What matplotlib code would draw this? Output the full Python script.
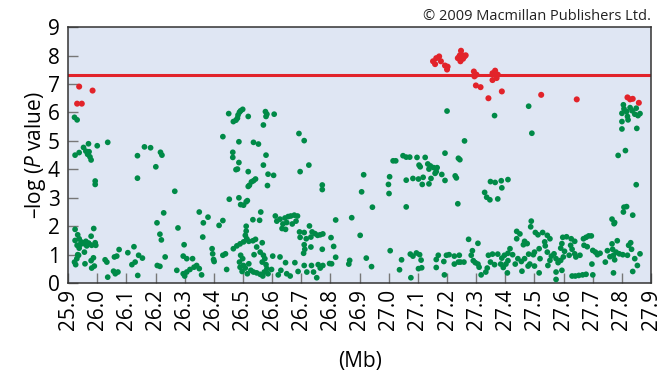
import numpy as np
import matplotlib
matplotlib.use("Agg")
import matplotlib.pyplot as plt

plt.rcParams["font.family"] = ["Open Sans", "DejaVu Sans"]
plt.rcParams["mathtext.fontset"] = "custom"
plt.rcParams["mathtext.rm"] = "Open Sans"
plt.rcParams["mathtext.it"] = "Open Sans:italic"

# SNPs above genome-wide threshold (Mb, -log P)
red_snps = [
    (25.938, 6.91), (25.984, 6.77), (25.931, 6.31), (25.947, 6.31),
    (27.152, 7.80), (27.163, 7.91), (27.173, 7.97), (27.159, 7.70), (27.179, 7.80),
    (27.193, 7.65), (27.202, 7.61), (27.200, 7.51), (27.237, 7.91), (27.244, 8.01),
    (27.248, 8.17), (27.253, 8.01), (27.242, 7.96), (27.260, 7.97), (27.264, 8.01),
    (27.246, 7.80), (27.255, 7.89), (27.292, 7.44), (27.301, 7.33), (27.294, 7.27),
    (27.356, 7.38), (27.365, 7.47), (27.374, 7.33), (27.370, 7.21), (27.356, 7.14),
    (27.299, 6.95), (27.315, 6.89), (27.342, 6.50), (27.388, 6.74), (27.523, 6.62),
    (27.645, 6.46), (27.819, 6.53), (27.828, 6.46), (27.837, 6.48), (27.858, 6.34),
]

# remaining SNPs
green_snps = [
    # 25.9 - 26.23
    (25.922, 5.83), (25.931, 5.74),
    (25.924, 4.50), (25.938, 4.59), (25.953, 4.77), (25.970, 4.90), (25.961, 4.64),
    (25.972, 4.62), (25.975, 4.44), (25.967, 4.53), (26.000, 4.83), (25.979, 4.33),
    (26.036, 4.95), (25.993, 3.59), (25.993, 3.47),
    (26.138, 4.48), (26.162, 4.79), (26.183, 4.76), (26.217, 4.60), (26.222, 4.50),
    (26.201, 4.09), (26.138, 3.69), (26.228, 2.47), (26.205, 2.12), (26.215, 1.72),
    (26.220, 1.52),
    (25.924, 1.89), (25.933, 1.70), (25.938, 1.56), (25.945, 1.45), (25.953, 1.39),
    (25.961, 1.47), (25.970, 1.41), (25.979, 1.65), (25.988, 1.92), (25.993, 1.42),
    (25.995, 1.33), (25.931, 1.33), (25.938, 1.23), (25.941, 1.35), (25.956, 1.42),
    (25.964, 1.31), (25.972, 1.38), (25.981, 1.33), (25.924, 1.50), (25.936, 0.98),
    (25.930, 0.86), (25.922, 0.74), (25.926, 0.65), (25.933, 1.00), (25.956, 1.09),
    (25.958, 0.68), (25.979, 0.79), (25.987, 0.89), (25.981, 0.53), (25.990, 0.60),
    (26.027, 0.82), (26.033, 0.74), (26.059, 0.92), (26.067, 0.95), (26.075, 1.18),
    (26.056, 0.42), (26.062, 0.33), (26.071, 0.39), (26.036, 0.21), (26.105, 1.07),
    (26.126, 1.28), (26.142, 0.98), (26.155, 0.88), (26.130, 0.74), (26.119, 0.65),
    (26.139, 0.27), (26.206, 0.62), (26.215, 0.59), (26.233, 0.92),
    # 26.23 - 26.57
    (26.266, 3.23), (26.277, 1.94), (26.298, 1.35), (26.295, 0.95), (26.307, 0.86),
    (26.327, 0.86), (26.273, 0.45), (26.295, 0.33), (26.300, 0.25), (26.307, 0.39),
    (26.318, 0.48), (26.332, 0.56), (26.341, 0.62), (26.350, 0.51), (26.358, 0.29),
    (26.350, 2.50), (26.380, 2.32), (26.364, 2.12), (26.431, 2.20), (26.418, 2.03),
    (26.362, 1.62), (26.394, 1.21), (26.396, 1.03), (26.399, 0.83), (26.401, 0.76),
    (26.431, 0.98), (26.440, 1.03), (26.444, 0.48),
    (26.431, 5.15), (26.451, 5.96), (26.467, 5.68), (26.476, 5.73), (26.481, 5.80),
    (26.488, 6.01), (26.492, 6.06), (26.499, 6.11), (26.483, 5.91), (26.518, 5.86),
    (26.570, 5.56), (26.486, 4.97), (26.536, 4.95), (26.553, 4.89), (26.465, 4.60),
    (26.465, 4.42), (26.486, 4.24), (26.481, 4.01), (26.476, 3.99), (26.518, 3.92),
    (26.570, 4.15), (26.529, 3.56), (26.536, 3.60), (26.543, 3.66), (26.522, 3.44),
    (26.518, 3.40), (26.453, 2.95), (26.486, 3.00), (26.492, 2.76), (26.502, 2.74),
    (26.511, 2.86), (26.515, 2.90), (26.534, 2.23), (26.557, 2.21), (26.561, 2.50),
    (26.511, 2.00), (26.511, 1.83), (26.508, 1.68), (26.513, 1.56), (26.502, 1.45),
    (26.490, 1.38), (26.479, 1.31), (26.467, 1.21), (26.520, 1.47), (26.534, 1.49),
    (26.543, 1.54), (26.547, 1.27), (26.538, 1.00), (26.559, 1.09), (26.566, 1.42),
    (26.492, 0.98), (26.499, 0.86), (26.488, 0.74), (26.502, 0.62), (26.490, 0.56),
    (26.508, 0.53), (26.520, 0.68), (26.527, 0.45), (26.536, 0.39), (26.547, 0.36),
    (26.559, 0.31), (26.568, 0.25), (26.515, 0.33), (26.497, 0.41),
    # 26.57 - 26.9
    (26.577, 6.03), (26.582, 5.94), (26.579, 5.86), (26.607, 5.94), (26.692, 5.26),
    (26.710, 5.01), (26.579, 4.50), (26.586, 3.83), (26.605, 3.79), (26.584, 3.43),
    (26.726, 4.15), (26.696, 3.92), (26.772, 3.45), (26.772, 3.29),
    (26.611, 2.36), (26.627, 2.25), (26.644, 2.29), (26.655, 2.34), (26.664, 2.36),
    (26.676, 2.39), (26.687, 2.36), (26.616, 2.18), (26.637, 2.08), (26.650, 2.13),
    (26.669, 2.08), (26.682, 2.18), (26.646, 1.89), (26.634, 1.92), (26.694, 1.80),
    (26.710, 1.78), (26.728, 2.01), (26.737, 1.80), (26.747, 1.74), (26.756, 1.68),
    (26.765, 1.70), (26.774, 1.73), (26.696, 1.61), (26.717, 1.56), (26.733, 1.62),
    (26.710, 1.35), (26.712, 1.19), (26.708, 1.05), (26.733, 1.27), (26.772, 1.19),
    (26.802, 1.60), (26.811, 1.29), (26.818, 2.22), (26.873, 2.30), (26.818, 0.91),
    (26.804, 0.68), (26.797, 0.69), (26.866, 0.80), (26.863, 0.67), (26.902, 1.68),
    (26.570, 0.98), (26.575, 0.86), (26.566, 0.74), (26.579, 0.65), (26.582, 0.51),
    (26.573, 0.39), (26.586, 0.33), (26.602, 0.95), (26.627, 0.92), (26.598, 0.48),
    (26.621, 0.29), (26.630, 0.45), (26.646, 0.72), (26.650, 0.33), (26.662, 0.25),
    (26.678, 0.72), (26.689, 0.41), (26.710, 0.62), (26.719, 0.39), (26.735, 0.62),
    (26.742, 0.39), (26.753, 0.19), (26.758, 0.65), (26.774, 0.62), (26.765, 0.53),
    # 26.9 - 27.24
    (27.200, 6.05), (26.914, 3.81), (26.907, 3.21), (26.944, 2.67), (26.923, 0.88),
    (26.941, 0.58), (27.003, 3.74), (26.999, 3.47), (27.001, 3.15),
    (27.015, 4.30), (27.024, 4.30), (27.049, 4.48), (27.060, 4.43), (27.072, 4.43),
    (27.097, 4.42), (27.125, 4.42), (27.104, 4.15), (27.108, 4.09), (27.134, 4.19),
    (27.143, 4.12), (27.138, 4.01), (27.154, 4.06), (27.166, 4.06), (27.159, 3.86),
    (27.163, 3.92), (27.145, 3.68), (27.138, 3.49), (27.115, 3.47), (27.083, 3.68),
    (27.102, 3.66), (27.118, 3.72), (27.060, 3.62), (27.182, 3.82), (27.193, 3.61),
    (27.193, 4.57), (27.228, 3.77), (27.232, 3.70), (27.239, 4.39), (27.237, 2.79),
    (27.060, 2.68),
    (27.005, 1.14), (27.037, 0.47), (27.044, 0.82), (27.074, 1.02), (27.083, 0.95),
    (27.095, 1.06), (27.106, 1.00), (27.111, 0.81), (27.102, 0.51), (27.113, 0.54),
    (27.076, 0.19), (27.163, 0.83), (27.170, 0.98), (27.163, 0.55), (27.189, 0.76),
    (27.198, 0.98), (27.207, 1.00), (27.225, 0.95), (27.225, 0.67), (27.191, 0.29),
    (27.239, 0.74),
    # 27.24 - 27.58
    (27.363, 5.89), (27.480, 6.22), (27.491, 5.27), (27.260, 5.00), (27.244, 4.34),
    (27.349, 3.57), (27.365, 3.54), (27.386, 3.60), (27.409, 3.64), (27.388, 3.35),
    (27.329, 3.19), (27.336, 3.02), (27.347, 2.93), (27.374, 2.96),
    (27.489, 2.18), (27.487, 1.98), (27.503, 1.78), (27.512, 1.70), (27.528, 1.78),
    (27.544, 1.68), (27.553, 1.56), (27.450, 1.73), (27.439, 1.56), (27.466, 1.47),
    (27.475, 1.39), (27.462, 1.35), (27.439, 1.82), (27.535, 1.45), (27.537, 1.31),
    (27.516, 1.21), (27.500, 1.09), (27.544, 1.09), (27.558, 0.95), (27.567, 1.03),
    (27.574, 0.86), (27.519, 0.86), (27.496, 1.00), (27.480, 1.02), (27.466, 0.86),
    (27.455, 0.76), (27.484, 0.67), (27.500, 0.60), (27.443, 0.86), (27.434, 0.67),
    (27.425, 1.00), (27.409, 1.05), (27.416, 1.21), (27.397, 0.98), (27.388, 0.88),
    (27.374, 1.02), (27.356, 1.02), (27.349, 0.74), (27.363, 0.65), (27.384, 0.67),
    (27.402, 0.67), (27.409, 0.79), (27.393, 0.55), (27.407, 0.36), (27.342, 0.98),
    (27.338, 0.53), (27.333, 0.39), (27.317, 0.29), (27.310, 0.56), (27.290, 0.79),
    (27.297, 0.72), (27.306, 0.67), (27.283, 0.98), (27.287, 1.14), (27.274, 1.54),
    (27.306, 1.40), (27.258, 0.74), (27.246, 0.74), (27.242, 0.98), (27.457, 0.42),
    (27.478, 0.60), (27.516, 0.36), (27.546, 0.62), (27.553, 0.80), (27.574, 0.39),
    # 27.58 - 27.9
    (27.805, 6.27), (27.807, 6.13), (27.800, 5.97), (27.816, 6.03), (27.828, 6.17),
    (27.835, 6.06), (27.849, 6.15), (27.844, 5.94), (27.862, 5.96), (27.855, 5.89),
    (27.819, 5.86), (27.800, 5.68), (27.821, 5.74), (27.800, 5.42), (27.851, 5.44),
    (27.787, 4.49), (27.812, 4.66), (27.849, 3.46), (27.807, 2.67), (27.816, 2.69),
    (27.805, 2.50), (27.837, 2.39), (27.766, 2.25), (27.775, 2.13), (27.773, 2.09),
    (27.597, 1.61), (27.610, 1.63), (27.626, 1.56), (27.638, 1.47), (27.594, 1.39),
    (27.590, 1.23), (27.603, 1.12), (27.624, 1.33), (27.629, 1.19), (27.638, 1.03),
    (27.619, 0.98), (27.599, 0.92), (27.590, 0.80), (27.581, 0.72), (27.594, 0.45),
    (27.642, 0.92), (27.656, 0.98), (27.668, 1.56), (27.677, 1.61), (27.686, 1.66),
    (27.695, 1.66), (27.670, 1.33), (27.681, 1.28), (27.700, 1.15), (27.709, 1.09),
    (27.716, 1.00), (27.725, 1.05), (27.697, 0.67), (27.743, 0.74), (27.750, 1.14),
    (27.759, 0.93), (27.766, 1.38), (27.768, 1.19), (27.771, 0.98), (27.775, 0.82),
    (27.784, 1.49), (27.780, 1.09), (27.791, 1.03), (27.803, 1.00), (27.819, 0.98),
    (27.823, 1.33), (27.830, 1.42), (27.833, 1.19), (27.844, 0.86), (27.853, 0.62),
    (27.862, 1.03), (27.837, 0.41), (27.771, 0.36), (27.629, 0.25), (27.640, 0.25),
    (27.652, 0.27), (27.665, 0.29), (27.677, 0.31), (27.700, 0.29), (27.574, 0.13),
]

threshold = 7.3
xticks = np.round(np.arange(25.9, 27.91, 0.1), 1)
yticks = list(range(0, 10))

gx, gy = zip(*green_snps)
rx, ry = zip(*red_snps)

fig = plt.figure(figsize=(6.61, 3.77), dpi=100)
ax = fig.add_axes([0.103, 0.249, 0.882, 0.679])
ax.set_facecolor("#dfe6f3")

ax.scatter(gx, gy, s=17, color="#008a47", edgecolors="none", zorder=3)
ax.axhline(threshold, color="#e2232a", lw=2.2, zorder=2)
ax.scatter(rx, ry, s=19, color="#e2232a", edgecolors="none", zorder=4)

ax.set_xlim(25.9, 27.9)
ax.set_ylim(0, 9)
ax.set_xticks(xticks)
ax.set_xticklabels([f"{t:.1f}" for t in xticks], rotation=90, fontsize=15)
ax.set_yticks(yticks)
ax.set_yticklabels([str(t) for t in yticks], fontsize=15)
ax.tick_params(axis="both", direction="in", length=7, width=1, color="#777777", pad=4)
ax.tick_params(axis="y", pad=6)
for s in ax.spines.values():
    s.set_color("#333333")
    s.set_linewidth(1.1)

ax.set_ylabel(r"–log ($\mathit{P}$ value)", fontsize=15, labelpad=0)
ax.set_xlabel("(Mb)", fontsize=15, labelpad=15)

fig.text(0.985, 0.955, "© 2009 Macmillan Publishers Ltd.", ha="right", va="center",
         fontsize=10.5, color="#222222")

fig.savefig("out.png", dpi=100)
